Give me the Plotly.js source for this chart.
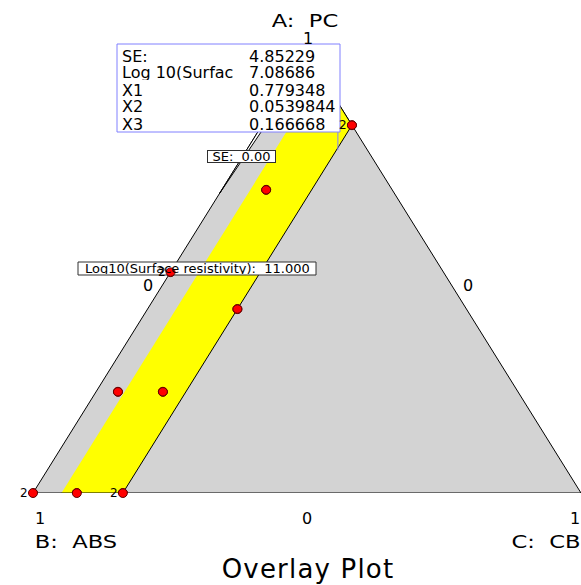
<!DOCTYPE html>
<html>
<head>
<meta charset="utf-8">
<script src="https://cdn.plot.ly/plotly-3.0.1.min.js"></script>
<style>
  html, body { margin: 0; padding: 0; background: #fff; }
  #chart { width: 581px; height: 585px; }
</style>
</head>
<body>
<div id="chart"></div>
<script>
// mixture fractions: A = PC (top), B = ABS (bottom left), C = CB (bottom right)
var triA = [1, 0, 0, 1];
var triC = [0, 0, 1, 0];

// yellow band (meets both criteria), lines of constant C
var bandA = [0, 0, 0.836, 0.948];
var bandC = [0.052, 0.164, 0.164, 0.052];

// SE contour close to the A-B edge
var seA = [0.845, 0.68, 0.845];
var seC = [0.007, 0, 0];

// design points, '2' = replicated
var ptA = [0, 0, 0, 0.836, 0.689, 0.502, 0.418, 0.230, 0.230];
var ptC = [0, 0.080, 0.164, 0.164, 0.081, 0, 0.164, 0.040, 0.122];
var ptRep = ['2', '', '2', '2', '', '2', '', '', ''];

// flagged point (X1 = A, X2 = B, X3 = C)
var flagNames = ['SE:', 'Log 10(Surfac', 'X1', 'X2', 'X3'];
var flagValues = ['4.85229', '7.08686', '0.779348', '0.0539844', '0.166668'];
var flagX = [0.779348, 0.0539844, 0.166668];

// ternary -> cartesian: x = C + A/2, y = A
function tx(a, c) { return c.map(function (v, i) { return v + a[i] / 2; }); }

// pixel -> paper helpers (plot area 548 x 440 at left 33, top 53)
var L = 33, T = 53, W = 548, H = 440;
function px(x) { return (x - L) / W; }
function py(y) { return (T + H - y) / H; }

var font = 'DejaVu Sans, Arial, sans-serif';

var traces = [
  {
    x: tx(triA, triC), y: triA, type: 'scatter', mode: 'lines',
    fill: 'toself', fillcolor: 'rgb(211,211,211)',
    line: { color: '#000', width: 1 }, cliponaxis: false, hoverinfo: 'skip'
  },
  {
    x: tx(bandA, bandC), y: bandA, type: 'scatter', mode: 'lines',
    fill: 'toself', fillcolor: '#ffff00',
    line: { color: '#000', width: 1 }, cliponaxis: false, hoverinfo: 'skip'
  },
  {
    x: tx(seA, seC), y: seA, type: 'scatter', mode: 'lines',
    fill: 'toself', fillcolor: '#fff',
    line: { color: '#000', width: 1 }, cliponaxis: false, hoverinfo: 'skip'
  },
  {
    x: tx(ptA, ptC), y: ptA, type: 'scatter', mode: 'markers',
    marker: { size: 9, color: '#ff0000', line: { color: '#600000', width: 1 } },
    cliponaxis: false
  }
];

var shapes = [];
var annotations = [];

function note(text, x, y, anchor, size, extra) {
  var a = { xref: 'paper', yref: 'paper', x: px(x), y: py(y), xanchor: anchor, yanchor: 'middle',
    text: text, showarrow: false, borderpad: 0, height: size,
    font: { family: font, size: size, color: '#000' } };
  for (var k in extra || {}) a[k] = extra[k];
  annotations.push(a);
  return annotations.length - 1;
}

// flag box + leader line
shapes.push({
  type: 'rect', xref: 'paper', yref: 'paper', layer: 'above',
  x0: px(117), x1: px(340), y0: py(132), y1: py(44),
  fillcolor: '#fff', line: { color: '#8080ff', width: 1 }
});
var fx = flagX[2] + flagX[0] / 2;
shapes.push({
  type: 'line', xref: 'x', yref: 'y', layer: 'above',
  x0: fx, x1: fx, y0: flagX[0], y1: py(132),
  line: { color: '#8080ff', width: 1 }
});
for (var i = 0; i < flagNames.length; i++) {
  note(flagNames[i], 121, 56 + i * 17, 'left', 16, { height: 15 });
  note(flagValues[i], 248, 56 + i * 17, 'left', 16, { height: 15 });
}

// contour label boxes
shapes.push({
  type: 'rect', xref: 'paper', yref: 'paper', layer: 'above',
  x0: px(78), x1: px(316), y0: py(275), y1: py(262),
  fillcolor: '#fff', line: { color: '#303030', width: 1 }
});
note('Log10(Surface resistivity):  11.000', 197, 268.5, 'center', 13, { height: 11 });
note('SE:  0.00', 241.5, 156.5, 'center', 13, { width: 67, height: 11,
  bgcolor: '#fff', bordercolor: '#303030', borderwidth: 1 });

// points redrawn above the label boxes, with replicate counts
var ptX = tx(ptA, ptC);
for (var j = 0; j < ptA.length; j++) {
  shapes.push({
    type: 'circle', xref: 'x', yref: 'y', layer: 'above',
    xsizemode: 'pixel', ysizemode: 'pixel', xanchor: ptX[j], yanchor: ptA[j],
    x0: -4.5, x1: 4.5, y0: -4.2, y1: 4.2,
    fillcolor: '#ff0000', line: { color: '#600000', width: 1 }
  });
  if (ptRep[j]) {
    annotations.push({ xref: 'x', yref: 'y', x: ptX[j], y: ptA[j], xanchor: 'right', yanchor: 'middle',
      xshift: -4, borderpad: 0, text: ptRep[j], showarrow: false,
      font: { family: font, size: 12, color: '#000' } });
  }
}

// vertex / edge labels; component names are drawn wide like the original
var stretched = [];
stretched.push(note('A:  PC', 305, 20, 'center', 17));
note('1', 308, 38, 'center', 16, { height: 14 });
note('0', 148, 285, 'center', 16);
note('0', 468, 285, 'center', 16);
note('1', 40, 518, 'center', 16);
note('0', 307, 518, 'center', 16);
note('1', 575, 518, 'center', 16);
stretched.push(note('B:  ABS', 76, 541, 'center', 17));
stretched.push(note('C:  CB', 546, 541, 'center', 17));

var layout = {
  width: 581, height: 585,
  margin: { l: L, r: 581 - L - W, t: T, b: 585 - T - H, pad: 0 },
  paper_bgcolor: '#fff', plot_bgcolor: '#fff',
  showlegend: false,
  title: { text: '<span style="letter-spacing:1.2px">Overlay Plot</span>', x: 308 / 581, xanchor: 'center',
    y: 1 - 569 / 585, yanchor: 'middle', yref: 'container', xref: 'container',
    font: { family: font, size: 26, color: '#000' } },
  xaxis: { range: [0, 1], visible: false, fixedrange: true },
  yaxis: { range: [0, 1], visible: false, fixedrange: true },
  shapes: shapes,
  annotations: annotations
};

Plotly.newPlot('chart', traces, layout, { displayModeBar: false, staticPlot: true }).then(function (gd) {
  stretched.forEach(function (k) {
    var t = gd.querySelector('.annotation[data-index="' + k + '"] .annotation-text');
    if (!t) return;
    t.style.transformBox = 'fill-box';
    t.style.transformOrigin = 'center';
    t.style.transform = 'scaleX(1.33)';
  });
});
</script>
</body>
</html>
